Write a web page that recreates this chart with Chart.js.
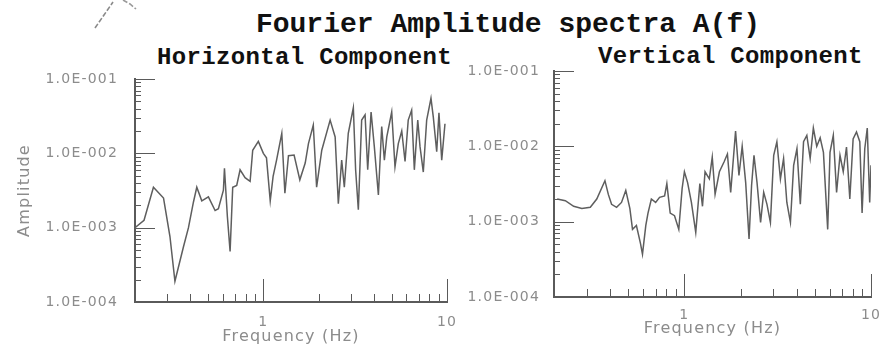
<!DOCTYPE html>
<html>
<head>
<meta charset="utf-8">
<script src="https://cdn.jsdelivr.net/npm/chart.js@4/dist/chart.umd.min.js"></script>
<style>
  html, body { margin: 0; padding: 0; background: #fff; }
  body { width: 890px; height: 346px; position: relative; overflow: hidden; }
  canvas { position: absolute; top: 0; }
  .ttl { position: absolute; font-family: "Liberation Mono", "DejaVu Sans Mono", monospace; font-weight: bold; color: #111; line-height: 1; white-space: nowrap; }
  #deco { position: absolute; left: 0; top: 0; }
</style>
</head>
<body>
<svg id="deco" width="160" height="40">
  <polyline points="95,28 104,15 113,2" fill="none" stroke="#8a8a8a" stroke-width="1.6" stroke-dasharray="5,2"/>
  <polyline points="123,0 130,4 136,9" fill="none" stroke="#9a9a9a" stroke-width="1.6" stroke-dasharray="5,2"/>
</svg>
<div class="ttl" style="left:508px; top:11px; font-size:28px; transform:translateX(-50%);">Fourier Amplitude spectra A(f)</div>
<div class="ttl" style="left:157px; top:46px; font-size:24px; letter-spacing:0.35px;">Horizontal Component</div>
<div class="ttl" style="left:598px; top:45px; font-size:24px; letter-spacing:0.3px;">Vertical Component</div>
<canvas id="hChart" width="460" height="346" style="left:0px"></canvas>
<canvas id="vChart" width="430" height="346" style="left:460px"></canvas>
<script>
// Frequency axis range (Hz) and amplitude axis range
const freqRange = [0.2, 10];
const ampRange = [1e-4, 1e-1];

// Tick labels
const xTickValues = [1, 10];
const xTickLabels = ['1', '10'];
const yTickValues = [1e-4, 1e-3, 1e-2, 1e-1];
const yTickLabels = ['1.0E-004', '1.0E-003', '1.0E-002', '1.0E-001'];

// Horizontal component spectrum
const hFreq = [0.200, 0.224, 0.252, 0.286, 0.310, 0.330, 0.367, 0.391, 0.416, 0.434,
  0.462, 0.502, 0.546, 0.569, 0.606, 0.614, 0.637, 0.659, 0.681, 0.716,
  0.747, 0.795, 0.847, 0.875, 0.939, 1.00, 1.04, 1.09, 1.13, 1.18,
  1.26, 1.31, 1.37, 1.47, 1.58, 1.69, 1.76, 1.87, 1.95, 2.08,
  2.31, 2.46, 2.56, 2.67, 2.76, 2.90, 3.09, 3.18, 3.29, 3.43,
  3.58, 3.70, 3.86, 4.02, 4.23, 4.41, 4.56, 4.70, 5.00, 5.21,
  5.43, 5.67, 5.91, 6.15, 6.42, 6.64, 6.93, 7.13, 7.43, 7.75,
  8.18, 8.42, 8.79, 9.04, 9.36, 9.75];
const hAmp = [1.0e-3, 1.26e-3, 3.5e-3, 2.5e-3, 7.6e-4, 1.9e-4, 5.5e-4, 1.0e-3, 2.2e-3, 3.5e-3,
  2.3e-3, 2.6e-3, 1.7e-3, 1.8e-3, 3.2e-3, 6.3e-3, 1.4e-3, 4.8e-4, 3.5e-3, 3.7e-3,
  6.0e-3, 4.7e-3, 4.2e-3, 1.1e-2, 1.45e-2, 1.0e-2, 8.7e-3, 2.3e-3, 4.9e-3, 8.1e-3,
  1.86e-2, 2.9e-3, 9.3e-3, 9.5e-3, 4.4e-3, 7.4e-3, 1.35e-2, 2.4e-2, 3.5e-3, 1.1e-2,
  2.8e-2, 1.66e-2, 2.1e-3, 8.1e-3, 3.5e-3, 1.86e-2, 4.1e-2, 6.0e-3, 1.74e-3, 2.8e-2,
  3.3e-2, 6.0e-3, 3.6e-2, 1.23e-2, 2.75e-3, 2.3e-2, 8.1e-3, 1.66e-2, 3.6e-2, 6.6e-3,
  1.35e-2, 2.0e-2, 7.8e-3, 2.8e-2, 3.8e-2, 6.0e-3, 2.8e-2, 1.23e-2, 5.6e-3, 2.8e-2,
  5.5e-2, 3.1e-2, 1.05e-2, 3.5e-2, 8.1e-3, 2.5e-2];

// Vertical component spectrum
const vFreq = [0.208, 0.230, 0.255, 0.282, 0.313, 0.339, 0.375, 0.391, 0.407, 0.433,
  0.460, 0.485, 0.510, 0.527, 0.553, 0.581, 0.596, 0.621, 0.638, 0.665,
  0.701, 0.736, 0.783, 0.805, 0.839, 0.885, 0.933, 0.972, 1.00, 1.04,
  1.09, 1.15, 1.21, 1.25, 1.29, 1.36, 1.41, 1.46, 1.54, 1.63,
  1.70, 1.77, 1.88, 1.96, 2.04, 2.13, 2.22, 2.29, 2.36, 2.45,
  2.56, 2.66, 2.77, 2.89, 3.01, 3.13, 3.27, 3.40, 3.54, 3.70,
  3.85, 4.01, 4.18, 4.35, 4.53, 4.72, 4.91, 5.12, 5.34, 5.56,
  5.86, 6.03, 6.28, 6.54, 6.82, 7.10, 7.39, 7.70, 8.02, 8.36,
  8.71, 8.96, 9.26, 9.55, 9.84, 10.0];
const vAmp = [2.0e-3, 1.9e-3, 1.6e-3, 1.5e-3, 1.55e-3, 2.0e-3, 3.5e-3, 2.3e-3, 1.7e-3, 1.55e-3,
  1.8e-3, 2.6e-3, 1.5e-3, 7.9e-4, 8.9e-4, 5.2e-4, 3.7e-4, 8.9e-4, 1.3e-3, 2.0e-3,
  1.8e-3, 2.1e-3, 2.2e-3, 3.2e-3, 1.3e-3, 1.2e-3, 7.9e-4, 2.75e-3, 4.6e-3, 3.3e-3,
  1.8e-3, 7.2e-4, 3.2e-3, 1.6e-3, 4.6e-3, 3.7e-3, 7.2e-3, 2.3e-3, 4.6e-3, 6.2e-3,
  7.9e-3, 2.45e-3, 1.6e-2, 4.1e-3, 1.0e-2, 3.3e-3, 5.9e-4, 3.0e-3, 7.6e-3, 3.3e-3,
  9.8e-4, 2.45e-3, 1.7e-3, 9.8e-4, 7.6e-3, 1.15e-2, 3.7e-3, 6.9e-3, 1.8e-3, 9.8e-4,
  5.6e-3, 9.3e-3, 1.7e-3, 1.15e-2, 1.4e-2, 6.9e-3, 1.75e-2, 1.0e-2, 1.3e-2, 8.3e-3,
  7.9e-4, 8.3e-3, 1.4e-2, 2.45e-3, 7.6e-3, 4.6e-3, 9.8e-3, 2.0e-3, 1.25e-2, 1.55e-2,
  1.15e-2, 1.3e-3, 9.3e-3, 1.75e-2, 1.8e-3, 5.6e-3];

const AXIS_COLOR = '#5a5a5a';
const LABEL_COLOR = '#8c8c8c';
const LINE_COLOR = '#5e5e5e';

function isDecade(v) {
  const l = Math.log10(v);
  return Math.abs(l - Math.round(l)) < 1e-9;
}

function labelFor(values, labels, v) {
  for (let i = 0; i < values.length; i++) {
    if (Math.abs(Math.log10(values[i]) - Math.log10(v)) < 1e-9) return labels[i];
  }
  return '';
}

// Slightly spaced-out lettering for the axis texts
const spacedText = {
  id: 'spacedText',
  beforeDraw(chart) { chart.ctx.letterSpacing = '1.2px'; },
  afterDraw(chart) { chart.ctx.letterSpacing = '0px'; }
};

// Short inward tick marks along both axes, placed through the scales
const inwardTicks = {
  id: 'inwardTicks',
  afterDatasetsDraw(chart) {
    const { ctx, chartArea, scales: { x, y } } = chart;
    ctx.save();
    ctx.strokeStyle = AXIS_COLOR;
    ctx.lineWidth = 1;
    ctx.beginPath();
    for (let e = Math.round(Math.log10(y.min)); e <= Math.round(Math.log10(y.max)); e++) {
      for (let m = 1; m <= 9; m++) {
        const v = m * Math.pow(10, e);
        if (v < y.min * 0.999 || v > y.max * 1.001) continue;
        const py = Math.round(y.getPixelForValue(v)) + 0.5;
        const len = m === 1 ? 20 : 6;
        ctx.moveTo(chartArea.left, py);
        ctx.lineTo(chartArea.left + len, py);
      }
    }
    for (let e = Math.floor(Math.log10(x.min)); e <= Math.round(Math.log10(x.max)); e++) {
      for (let m = 1; m <= 9; m++) {
        const v = m * Math.pow(10, e);
        if (v < x.min * 0.999 || v > x.max * 1.001) continue;
        const px = Math.round(x.getPixelForValue(v)) + 0.5;
        const len = m === 1 ? 23 : 8;
        ctx.moveTo(px, chartArea.bottom);
        ctx.lineTo(px, chartArea.bottom - len);
      }
    }
    ctx.stroke();
    ctx.restore();
  }
};

function makeChart(id, freq, amp, cfg) {
  const points = freq.map((f, i) => ({ x: f, y: amp[i] }));
  return new Chart(document.getElementById(id), {
    type: 'line',
    data: {
      datasets: [{
        data: points,
        borderColor: LINE_COLOR,
        borderWidth: 1.5,
        pointRadius: 0,
        tension: 0,
        fill: false
      }]
    },
    options: {
      responsive: false,
      animation: false,
      devicePixelRatio: 1,
      layout: { padding: cfg.padding },
      plugins: { legend: { display: false }, tooltip: { enabled: false } },
      scales: {
        x: {
          type: 'logarithmic',
          min: freqRange[0],
          max: freqRange[1],
          grid: { display: true, drawOnChartArea: false, drawTicks: false },
          border: { display: true, color: AXIS_COLOR, width: 2 },
          afterBuildTicks(scale) {
            scale.ticks = xTickValues.map(v => ({ value: v }));
          },
          ticks: {
            autoSkip: false,
            maxRotation: 0,
            padding: cfg.xTickPad,
            color: LABEL_COLOR,
            font: { family: 'DejaVu Sans', size: 14 },
            callback: v => labelFor(xTickValues, xTickLabels, v)
          },
          title: {
            display: true,
            text: 'Frequency (Hz)',
            color: LABEL_COLOR,
            font: { family: 'DejaVu Sans', size: 16 },
            padding: { top: 0, bottom: cfg.xTitlePad }
          },
          afterFit(scale) {
            scale.height = cfg.xHeight;
            scale.paddingLeft = 0;
            scale.paddingRight = 0;
          }
        },
        y: {
          type: 'logarithmic',
          min: ampRange[0],
          max: ampRange[1],
          grid: { display: true, drawOnChartArea: false, drawTicks: false },
          border: { display: true, color: AXIS_COLOR, width: 2 },
          afterBuildTicks(scale) {
            scale.ticks = yTickValues.map(v => ({ value: v }));
          },
          ticks: {
            autoSkip: false,
            padding: cfg.yTickPad,
            color: LABEL_COLOR,
            font: { family: 'DejaVu Sans', size: 14 },
            callback: v => isDecade(v) ? labelFor(yTickValues, yTickLabels, v) : ''
          },
          title: {
            display: cfg.yTitle !== '',
            text: cfg.yTitle,
            color: LABEL_COLOR,
            font: { family: 'DejaVu Sans', size: 16 },
            padding: { top: 15, bottom: 0 }
          },
          afterFit(scale) {
            scale.width = cfg.yWidth;
            scale.paddingTop = 0;
            scale.paddingBottom = 0;
          }
        }
      }
    },
    plugins: [spacedText, inwardTicks]
  });
}

makeChart('hChart', hFreq, hAmp, {
  padding: { top: 79, right: 13, bottom: 0, left: 0 },
  xHeight: 44, yWidth: 135, xTickPad: 12, xTitlePad: 0, yTickPad: 17, yTitle: 'Amplitude'
});

makeChart('vChart', vFreq, vAmp, {
  padding: { top: 71, right: 19, bottom: 0, left: 0 },
  xHeight: 49, yWidth: 94, xTickPad: 10, xTitlePad: 8, yTickPad: 14, yTitle: ''
});
</script>
</body>
</html>
